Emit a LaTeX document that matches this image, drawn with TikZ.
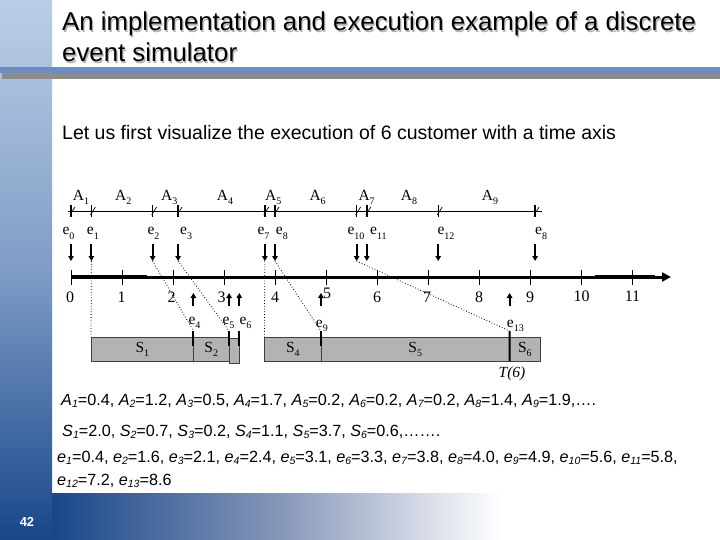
\documentclass[tikz,border=0pt]{standalone}
\usepackage{fontspec}
\setmainfont{Liberation Sans}
\newfontfamily\serifLbl{Liberation Serif}
\usetikzlibrary{arrows.meta}

\definecolor{sideTop}{HTML}{BACEE6}
\definecolor{sideMid}{HTML}{7F9CC6}
\definecolor{sideBot}{HTML}{17478A}
\definecolor{bandMid}{HTML}{8595B8}
\definecolor{barBlue}{HTML}{6D8DC1}
\definecolor{barGray}{HTML}{8C8C8C}
\definecolor{boxGray}{HTML}{B3B3B3}

% subscripted labels of the time chart
\newcommand\sublbl[2]{#1\raisebox{-0.6ex}{\fontsize{10}{10}\selectfont#2}}
% italic names in the value lines
\newcommand\subval[2]{\textit{#1}\raisebox{-0.35ex}{\fontsize{10.5}{10.5}\selectfont\itshape#2}}

\begin{document}
\begin{tikzpicture}
[x=1pt,y=-1pt,
  every node/.style={inner sep=0pt},
  titleText/.style={font=\fontsize{25.8}{30}\selectfont,anchor=base west},
  lblText/.style={font=\serifLbl\fontsize{15.5}{15.5}\selectfont,anchor=base west},
  numText/.style={font=\serifLbl\fontsize{16}{16}\selectfont},
  valText/.style={font=\fontsize{16.2}{18}\selectfont,anchor=base west},
  arrowDown/.style={line width=2pt,-{Triangle[length=5pt,width=5.5pt]}},
  dotLink/.style={dotted,line width=0.8pt},
  depMark/.style={line width=2pt},
  serviceBox/.style={draw=black!75,fill=boxGray,line width=0.8pt,
    minimum height=24.4pt,font=\serifLbl\fontsize{15.5}{15.5}\selectfont}]
\useasboundingbox (0,0) rectangle (720,540);
\fill[white] (0,0) rectangle (720,540);
% slide frame
\shade[top color=sideTop,bottom color=sideBot,middle color=sideMid] (0,0) rectangle (52,540);
\shade[left color=sideBot,right color=white,middle color=bandMid] (52,493) rectangle (500,540);
\fill[barBlue] (0,66.7) rectangle (720,72.7);
\fill[barGray] (2,72.7) rectangle (720,78.7);
\node[font=\bfseries\fontsize{13}{13}\selectfont,text=white] (pageNo) at (27,521.5) {42};

\node[titleText,text=black!30] (titleShadowA) at (63.3,32.3)
  {An implementation and execution example of a discrete};
\node[titleText] (titleA) at (62,31)
  {An implementation and execution example of a discrete};
\node[titleText,text=black!30] (titleShadowB) at (63.3,63.3) {event simulator};
\node[titleText] (titleB) at (62,62) {event simulator};
\node[font=\fontsize{19.5}{22}\selectfont,anchor=base west] (intro) at (62,140)
  {Let us first visualize the execution of 6 customer with a time axis};

% arrival line
\coordinate (arrStart) at (68,211);
\coordinate (arrEnd) at (542,211);
\draw[line width=0.8pt] (arrStart) -- (arrEnd);
\foreach \i/\lx in {1/72.7, 2/115, 3/161, 4/216.7, 5/265, 6/309.3, 7/358.3, 8/400.7, 9/481.7}
  \node[lblText] (arrLbl\i) at (\lx,200.5) {\sublbl{A}{\i}};
\foreach \n/\t/\lx/\txt in {0/0/62.3/0, 1/0.4/86.7/1, 2/1.6/147.3/2, 3/2.1/180/3,
  7/3.8/257.3/7, 8/4.0/275.7/8, 10/5.6/347.3/10, 11/5.8/370/11, 12/7.2/437.3/12, 14/9.1/535/8}
{
  \coordinate (arr\n) at ({71+51*\t},211);
  \coordinate (up\n) at ({71+51*\t},244);
  \coordinate (dn\n) at ({71+51*\t},261);
  \draw[line width=1.4pt] ([shift={(0,-6)}]arr\n) -- ([shift={(0,6)}]arr\n);
  \draw[line width=0.7pt] ([shift={(-1,4)}]arr\n) -- ([shift={(4,-4)}]arr\n);
  \node[lblText] (ev\n) at (\lx,235) {\sublbl{e}{\txt}};
  \draw[arrowDown] (up\n) -- (dn\n);
}

% time axis
\coordinate (axisStart) at (71,277);
\coordinate (axisEnd) at (671,277);
\draw[line width=3pt,-{Triangle[length=9pt,width=9pt]}] (axisStart) -- (axisEnd);
\draw[line width=4.5pt] (axisStart) -- (147,277);
\draw[line width=4.5pt] (595,277) -- (655,277);
\foreach \t/\nx/\ny in {0/70/297, 1/121.5/297, 2/171.5/297, 3/221.5/297, 4/275/297,
  5/327/293, 6/377/297, 7/427/297, 8/479/297, 9/530/297, 10/581.5/296, 11/632.5/296}
{
  \draw[line width=1pt] ({71+51*\t},270) -- ({71+51*\t},285);
  \node[numText] (num\t) at (\nx,\ny) {\t};
}

% departures
\foreach \n/\t/\lx/\ly in {4/2.4/188.3/324, 5/3.1/222.3/324, 6/3.3/239.3/324,
  9/4.9/315.7/327, 13/8.6/506.7/327}
{
  \coordinate (dlo\n) at ({71+51*\t},306);
  \coordinate (dup\n) at ({71+51*\t},293);
  \coordinate (mark\n) at ({71+51*\t},331);
  \coordinate (markEnd\n) at ({71+51*\t},346);
  \draw[arrowDown] (dlo\n) -- (dup\n);
  \node[lblText] (dep\n) at (\lx,\ly) {\sublbl{e}{\n}};
}

% service boxes
\foreach \n/\s/\f/\yc/\txt in {1/0.4/2.4/349.5/{\sublbl{S}{1}}, 2/2.4/3.1/349.5/{\sublbl{S}{2}},
  3/3.1/3.3/351/{}, 4/3.8/4.9/349.5/{\sublbl{S}{4}}, 5/4.9/8.6/349.5/{\sublbl{S}{5}},
  6/8.6/9.2/349.5/{\sublbl{S}{6}}}
  \node[serviceBox,minimum width={51*(\f-\s)}] (box\n) at ({71+51*(\s+\f)/2},\yc) {\txt};
\coordinate (markEnd13) at (509.6,361);
\foreach \n in {4,5,6,9,13}
  \draw[depMark] (mark\n) -- (markEnd\n);

\path
\foreach \startNode/\endNode in {
  dn1/box1.north west, dn2/mark4, dn3/mark5, dn7/box4.north west, dn8/mark9, dn10/mark13}
{
  (\startNode) edge[dotLink] (\endNode)
};
\node[font=\serifLbl\itshape\fontsize{15.5}{15.5}\selectfont] (tSix) at (512,374) {T(6)};

% values
\node[valText] (arrVals) at (61,405) {\subval{A}{1}=0.4, \subval{A}{2}=1.2, \subval{A}{3}=0.5,
  \subval{A}{4}=1.7, \subval{A}{5}=0.2, \subval{A}{6}=0.2, \subval{A}{7}=0.2, \subval{A}{8}=1.4,
  \subval{A}{9}=1.9,….};
\node[valText] (srvVals) at (62,436) {\subval{S}{1}=2.0, \subval{S}{2}=0.7, \subval{S}{3}=0.2,
  \subval{S}{4}=1.1, \subval{S}{5}=3.7, \subval{S}{6}=0.6,…….};
\node[valText] (evVals) at (57,462) {\subval{e}{1}=0.4, \subval{e}{2}=1.6, \subval{e}{3}=2.1,
  \subval{e}{4}=2.4, \subval{e}{5}=3.1, \subval{e}{6}=3.3, \subval{e}{7}=3.8, \subval{e}{8}=4.0,
  \subval{e}{9}=4.9, \subval{e}{10}=5.6, \subval{e}{11}=5.8,};
\node[valText] (evValsB) at (57,485) {\subval{e}{12}=7.2, \subval{e}{13}=8.6};
\end{tikzpicture}
\end{document}
